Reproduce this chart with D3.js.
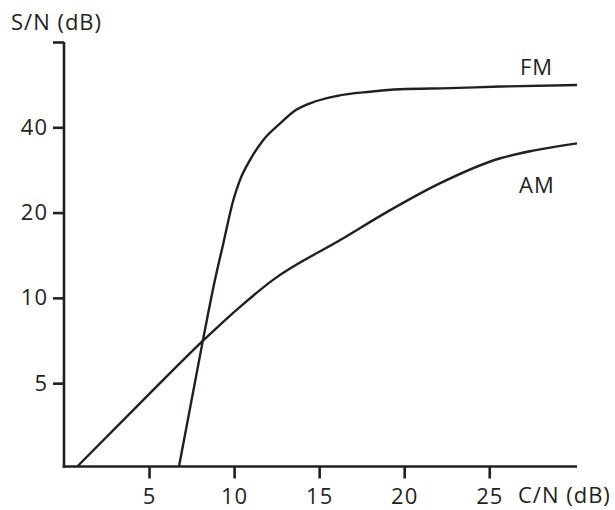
<!DOCTYPE html>
<html>
<head>
<meta charset="utf-8">
<script src="https://cdn.jsdelivr.net/npm/d3@7"></script>
<style>
  html, body { margin: 0; padding: 0; background: #fff; }
  svg { display: block; }
  text { font-family: "Open Sans", sans-serif; fill: #231f20; letter-spacing: 1px; }
</style>
</head>
<body>
<svg id="chart" width="615" height="510"></svg>
<script>
// Data (C/N in dB, S/N in dB)
const fmCN = [6.76, 8.16, 8.88, 9.37, 9.96, 10.35, 10.94, 11.72, 12.71, 13.49, 14.47, 16.04, 18.0, 19.76, 22.7, 25.65, 30.16];
const fmSN = [2.54, 7.05, 11.6, 15.6, 22.2, 26.1, 30.7, 36.1, 41.3, 45.4, 48.6, 51.6, 53.4, 54.5, 55.0, 55.7, 56.4];
const amCN = [0.78, 5.06, 8.16, 10.35, 12.31, 16.24, 19.18, 22.12, 25.65, 27.59, 30.16];
const amSN = [2.54, 4.61, 7.05, 9.3, 11.6, 16.0, 20.4, 25.4, 31.1, 33.1, 35.1];
const xTicks = [5, 10, 15, 20, 25];
const yTicks = [5, 10, 20, 40, 80];
const yTickLabels = ["5", "10", "20", "40", ""];
const seriesNames = ["FM", "AM"];

const ink = "#231f20";
const fontSize = "22px";
const svg = d3.select("#chart");

const x = d3.scaleLinear().domain([0, 30.16]).range([64, 577]);
const y = d3.scaleLog().base(2).domain([2.54, 80]).range([466.5, 42]);

// Axes
const xAxis = d3.axisBottom(x).tickValues(xTicks).tickSize(12).tickPadding(10).tickSizeOuter(0);
const yAxis = d3.axisLeft(y).tickValues(yTicks)
  .tickFormat((d, i) => yTickLabels[i]).tickSize(11).tickPadding(5).tickSizeOuter(0);

const gx = svg.append("g").attr("transform", `translate(0,${y.range()[0]})`).call(xAxis);
const gy = svg.append("g").attr("transform", `translate(${x.range()[0]},0)`).call(yAxis);

[gx, gy].forEach(g => {
  g.select(".domain").attr("stroke", ink).attr("stroke-width", 2.6);
  g.selectAll(".tick line").attr("stroke", ink).attr("stroke-width", 2.6);
  g.selectAll(".tick text").attr("fill", ink)
    .style("font-family", '"Open Sans", sans-serif').style("font-size", fontSize)
    .style("letter-spacing", "1px");
});
gy.select(".domain").attr("d", `M0,${y.range()[1]}V${y.range()[0] + 1.3}`);
gx.select(".domain").attr("d", `M${x.range()[0] - 1.3},0H${x.range()[1]}`);
gx.selectAll(".tick text").attr("dy", "0.71em");

// Lines
const line = d3.line().curve(d3.curveMonotoneX).x(d => x(d[0])).y(d => y(d[1]));
const fm = fmCN.map((c, i) => [c, fmSN[i]]);
const am = amCN.map((c, i) => [c, amSN[i]]);
[fm, am].forEach(data => {
  svg.append("path").datum(data).attr("d", line)
    .attr("fill", "none").attr("stroke", ink).attr("stroke-width", 2.4)
    .attr("stroke-linejoin", "round");
});

// Labels
svg.append("text").attr("x", 520).attr("y", 75).style("font-size", fontSize).text(seriesNames[0]);
svg.append("text").attr("x", 519).attr("y", 193).style("font-size", fontSize).text(seriesNames[1]);
svg.append("text").attr("x", 11).attr("y", 30).style("font-size", fontSize).text("S/N (dB)");
svg.append("text").attr("x", 518).attr("y", 503).style("font-size", fontSize).text("C/N (dB)");
</script>
</body>
</html>
